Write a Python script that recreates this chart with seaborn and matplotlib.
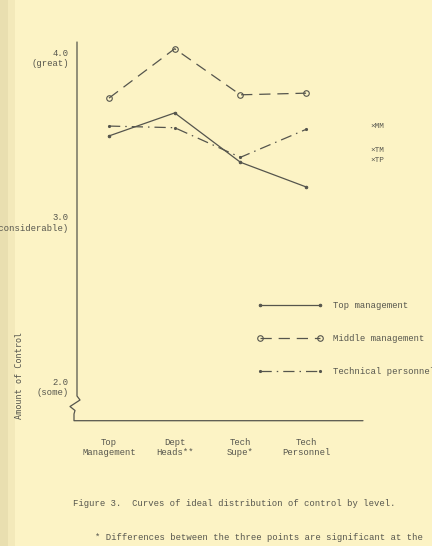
import matplotlib
matplotlib.use("Agg")
import matplotlib.pyplot as plt
from matplotlib.lines import Line2D
from matplotlib.patches import Rectangle
import seaborn as sns
import pandas as pd

# ---- data ----
levels = ["Top\nManagement", "Dept\nHeads**", "Tech\nSupe*", "Tech\nPersonnel"]
top_management = [3.52, 3.66, 3.36, 3.21]
middle_management = [3.75, 4.05, 3.77, 3.78]
technical_personnel = [3.58, 3.57, 3.39, 3.56]
ytick_values = [4.0, 3.0, 2.0]
ytick_labels = ["4.0\n(great)", "3.0\n(considerable)", "2.0\n(some)"]
side_labels = ["\u00d7MM", "\u00d7TM", "\u00d7TP"]

W, H = 432, 546
BG = "#FCF3C5"
INK = "#55554d"
MONO = "Liberation Mono"

sns.set_style("white")
plt.rcParams["font.family"] = [MONO, "DejaVu Sans"]

fig = plt.figure(figsize=(W / 100, H / 100), dpi=100)
fig.patch.set_facecolor(BG)

def fx(x):
    return x / W

def fy(y):
    return 1 - y / H

# scan edge band on the left (behind everything)
fig.patches.append(Rectangle((0, 0), fx(8), 1, transform=fig.transFigure,
                             facecolor="#e9dfb0", edgecolor="none", zorder=-2))
fig.patches.append(Rectangle((fx(8), 0), fx(7), 1, transform=fig.transFigure,
                             facecolor="#f3e9ba", edgecolor="none", zorder=-2))

ax = fig.add_axes([fx(77), fy(420.7), (363 - 77) / W, (420.7 - 42) / H])
ax.set_facecolor("none")

df = pd.DataFrame({"level": levels, "tm": top_management,
                   "mm": middle_management, "tp": technical_personnel})

sns.lineplot(data=df, x="level", y="tm", ax=ax, sort=False, color=INK, lw=0.9,
             marker="o", ms=1.8, markeredgecolor=INK, markerfacecolor=INK,
             label="Top management")
sns.lineplot(data=df, x="level", y="mm", ax=ax, sort=False, color=INK, lw=0.9,
             linestyle=(0, (9, 5.5)), marker="o", ms=4, markeredgecolor=INK,
             markerfacecolor="none", markeredgewidth=0.8,
             label="Middle management")
sns.lineplot(data=df, x="level", y="tp", ax=ax, sort=False, color=INK, lw=0.9,
             linestyle=(0, (9, 4, 1.2, 4)), marker="o", ms=1.5,
             markeredgecolor=INK, markerfacecolor=INK,
             label="Technical personnel")

ax.set_xlim(-0.487, 3.866)
ax.set_ylim(1.789, 4.091)
ax.set_xlabel("")
ax.set_ylabel("")
ax.grid(False)
for s in ax.spines.values():
    s.set_visible(False)

ax.set_yticks(ytick_values, labels=ytick_labels)
ax.tick_params(axis="y", direction="inout", length=5, width=0.7, pad=3.5,
               colors=INK, labelsize=6.4)
ax.tick_params(axis="x", direction="inout", length=7, width=0.7, pad=9,
               colors=INK, labelsize=6.4)
for t in ax.get_xticklabels():
    t.set_multialignment("center")

# axis lines with the break on the value axis
axis_pts = [(77, 42), (77, 396), (80, 400), (70, 406.5), (75, 410.5),
            (74, 414), (74, 420.7), (363, 420.7)]
fig.lines.append(Line2D([fx(p[0]) for p in axis_pts], [fy(p[1]) for p in axis_pts],
                        transform=fig.transFigure, color=INK, lw=0.9))

leg = ax.legend(loc="upper left", bbox_to_anchor=(fx(257), fy(301)),
                bbox_transform=fig.transFigure, frameon=False, borderpad=0,
                borderaxespad=0, numpoints=2, handlelength=7.4,
                handletextpad=1.2, labelspacing=2.7,
                prop={"family": MONO, "size": 6.4})
for t in leg.get_texts():
    t.set_color(INK)

for lab, yy in zip(side_labels, [126, 150, 160]):
    fig.text(fx(370), fy(yy), lab, fontsize=5.6, color=INK, va="center",
             ha="left", family=MONO)

fig.text(fx(20), fy(375), "Amount of Control", rotation=90, fontsize=6.1,
         color=INK, ha="center", va="center", family="DejaVu Sans Mono")

fig.text(fx(73), fy(504), "Figure 3.  Curves of ideal distribution of control by level.",
         fontsize=6.4, color=INK, ha="left", va="center", family=MONO)
fig.text(fx(95), fy(537), "* Differences between the three points are significant at the",
         fontsize=6.4, color=INK, ha="left", va="center", family=MONO)

fig.savefig("out.png", dpi=100, facecolor=BG)
